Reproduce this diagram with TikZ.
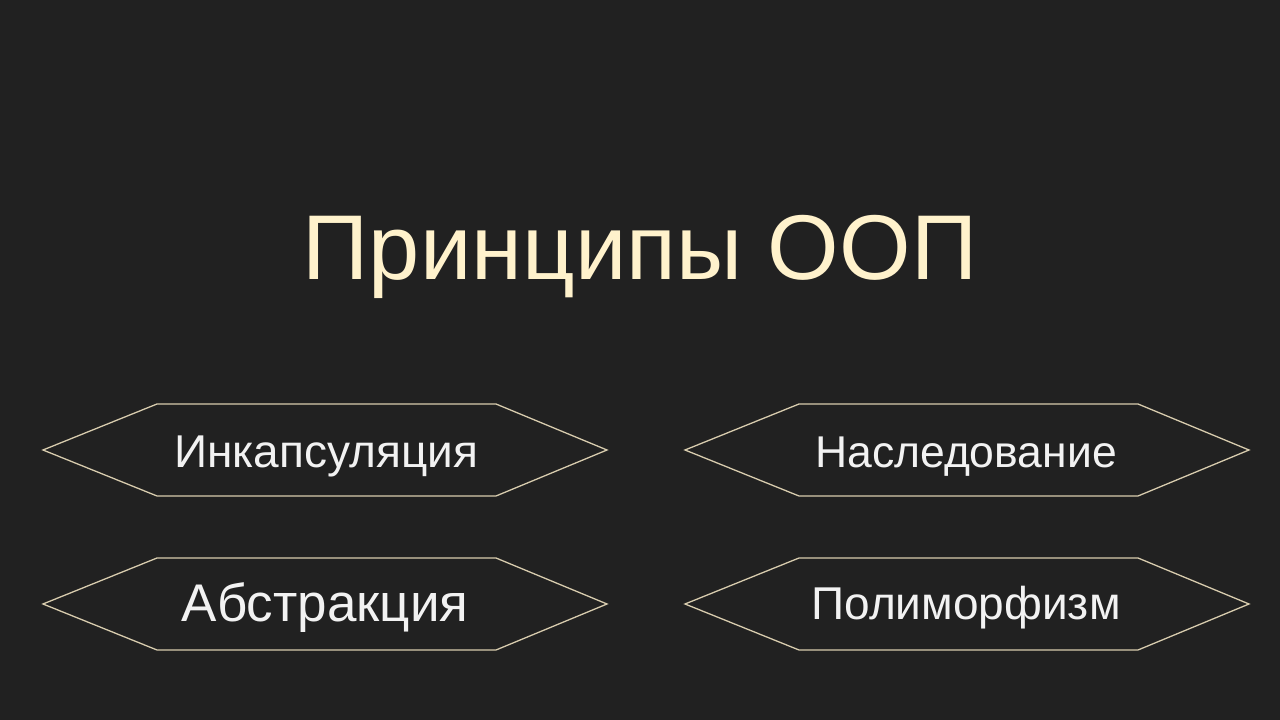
\documentclass[tikz,border=0pt]{standalone}
\usepackage{fontspec}
\setmainfont{Liberation Sans}
\definecolor{bg}{HTML}{212121}
\definecolor{titlec}{HTML}{FFF2CC}
\definecolor{hexline}{HTML}{D8CCAE}
\definecolor{labelc}{HTML}{F2F2F2}
\begin{document}
\begin{tikzpicture}[x=1pt,y=1pt,
  hexbox/.style={draw=hexline, line width=1.3pt, line join=miter},
  lbl/.style={text=labelc, anchor=base, inner sep=0pt, font=\fontsize{46}{46}\selectfont},
  ttl/.style={text=titlec, anchor=base, inner sep=0pt, font=\fontsize{92}{92}\selectfont}]
\fill[bg] (0,0) rectangle (1280,720);
\useasboundingbox (0,0) rectangle (1280,720);
\node[ttl] (title) at (640,440) {Принципы ООП};
% hexagons: center (cx, cy)
\foreach \cx/\cy/\nm in {325/270/h1, 967/270/h2, 325/116/h3, 967/116/h4}{
  \draw[hexbox] (\cx-282,\cy) -- (\cx-168,\cy+46) -- (\cx+171,\cy+46) -- (\cx+282,\cy) -- (\cx+171,\cy-46) -- (\cx-168,\cy-46) -- cycle;
}
\node[lbl] (t1) at (326,252) {Инкапсуляция};
\node[lbl, font=\fontsize{44.5}{44.5}\selectfont] (t2) at (966,252) {Наследование};
\node[lbl, font=\fontsize{53}{53}\selectfont] (t3) at (325,98) {Абстракция};
\node[lbl] (t4) at (966,100) {Полиморфизм};
\end{tikzpicture}
\end{document}
